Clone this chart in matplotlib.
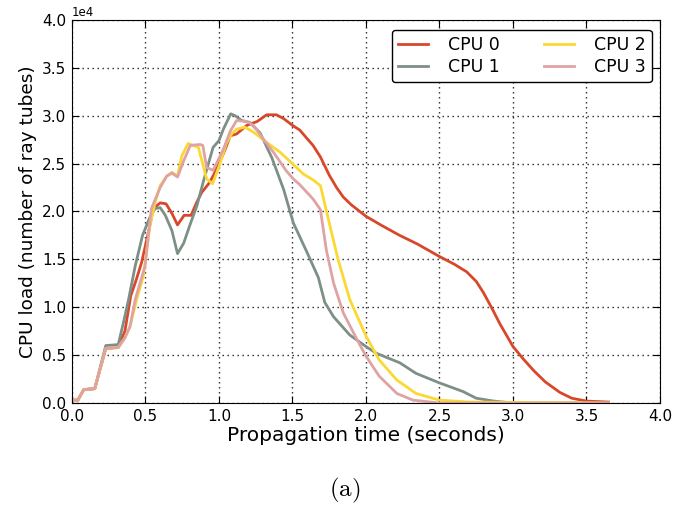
import numpy as np
import matplotlib
matplotlib.use("Agg")
import matplotlib.pyplot as plt

# CPU load traces, values in units of 1e4 ray tubes
t_cpu0 = [0, 0.04, 0.08, 0.155, 0.23, 0.315, 0.36, 0.40, 0.44, 0.474, 0.52, 0.553, 0.6, 0.64,
          0.68, 0.718, 0.763, 0.81, 0.85, 0.883, 0.93, 0.96, 1.0, 1.04, 1.077, 1.12, 1.19, 1.26,
          1.325, 1.39, 1.44, 1.5, 1.55, 1.6, 1.64, 1.69, 1.75, 1.8, 1.846, 1.9, 2.0, 2.1, 2.23,
          2.35, 2.5, 2.6, 2.685, 2.75, 2.8, 2.86, 2.91, 3.0, 3.07, 3.14, 3.22, 3.32, 3.4, 3.5, 3.65]
v_cpu0 = [0.03, 0.03, 0.14, 0.15, 0.57, 0.58, 0.75, 1.12, 1.3, 1.47, 1.78, 2.03, 2.09, 2.08,
          1.98, 1.86, 1.96, 1.96, 2.1, 2.2, 2.29, 2.37, 2.5, 2.64, 2.79, 2.81, 2.90, 2.94,
          3.01, 3.01, 2.97, 2.90, 2.85, 2.76, 2.69, 2.57, 2.38, 2.25, 2.15, 2.07, 1.95, 1.86, 1.75,
          1.66, 1.53, 1.45, 1.37, 1.27, 1.15, 0.98, 0.83, 0.59, 0.46, 0.34, 0.22, 0.11, 0.05, 0.02, 0.01]

t_cpu1 = [0, 0.04, 0.08, 0.155, 0.23, 0.315, 0.35, 0.385, 0.43, 0.48, 0.53, 0.565, 0.6, 0.635,
          0.68, 0.718, 0.76, 0.805, 0.85, 0.895, 0.93, 0.96, 1.0, 1.03, 1.08, 1.11, 1.155, 1.21,
          1.28, 1.36, 1.44, 1.506, 1.6, 1.676, 1.72, 1.78, 1.89, 2.0, 2.07, 2.23, 2.34, 2.5, 2.66,
          2.75, 2.87, 3.0, 3.2, 3.65]
v_cpu1 = [0.03, 0.03, 0.14, 0.15, 0.6, 0.61, 0.84, 1.08, 1.43, 1.75, 1.94, 2.03, 2.04, 1.96,
          1.80, 1.56, 1.67, 1.87, 2.06, 2.32, 2.51, 2.67, 2.74, 2.86, 3.02, 3.0, 2.95, 2.93,
          2.82, 2.56, 2.23, 1.88, 1.57, 1.31, 1.05, 0.90, 0.71, 0.59, 0.52, 0.42, 0.31, 0.21, 0.12,
          0.05, 0.02, 0.0, 0.0, 0.0]

t_cpu2 = [0, 0.04, 0.08, 0.155, 0.23, 0.315, 0.36, 0.395, 0.44, 0.486, 0.53, 0.565, 0.6, 0.645,
          0.68, 0.718, 0.747, 0.79, 0.86, 0.916, 0.957, 1.007, 1.05, 1.086, 1.12, 1.177, 1.234,
          1.325, 1.415, 1.506, 1.575, 1.64, 1.69, 1.755, 1.81, 1.89, 2.0, 2.09, 2.21, 2.34, 2.5,
          2.7, 3.65]
v_cpu2 = [0.03, 0.03, 0.14, 0.15, 0.57, 0.58, 0.68, 0.80, 1.08, 1.33, 1.85, 2.09, 2.27, 2.37,
          2.41, 2.37, 2.58, 2.71, 2.67, 2.34, 2.29, 2.50, 2.71, 2.81, 2.86, 2.88, 2.83,
          2.72, 2.62, 2.49, 2.39, 2.33, 2.27, 1.85, 1.50, 1.08, 0.70, 0.45, 0.24, 0.10, 0.03,
          0.01, 0.0]

t_cpu3 = [0, 0.04, 0.08, 0.155, 0.23, 0.315, 0.36, 0.395, 0.43, 0.497, 0.54, 0.6, 0.645, 0.68,
          0.718, 0.76, 0.805, 0.87, 0.89, 0.916, 0.96, 1.03, 1.077, 1.12, 1.19, 1.234, 1.30, 1.37,
          1.415, 1.46, 1.506, 1.55, 1.64, 1.69, 1.73, 1.78, 1.846, 1.94, 2.0, 2.09, 2.21, 2.32,
          2.5, 3.65]
v_cpu3 = [0.03, 0.03, 0.14, 0.15, 0.57, 0.58, 0.68, 0.80, 1.08, 1.43, 2.03, 2.25, 2.37, 2.40,
          2.36, 2.53, 2.69, 2.70, 2.69, 2.46, 2.43, 2.65, 2.84, 2.95, 2.94, 2.90, 2.76, 2.62,
          2.52, 2.42, 2.34, 2.28, 2.13, 2.02, 1.60, 1.25, 0.94, 0.66, 0.49, 0.28, 0.10, 0.03,
          0.0, 0.0]

labels = ["CPU 0", "CPU 1", "CPU 2", "CPU 3"]
colors = ["#d9472b", "#7e8f86", "#fbd832", "#e0a3a3"]
series = [(t_cpu0, v_cpu0), (t_cpu1, v_cpu1), (t_cpu2, v_cpu2), (t_cpu3, v_cpu3)]

plt.rcParams['mathtext.fontset'] = 'cm'

fig = plt.figure(figsize=(6.9, 5.07), dpi=100)
ax = fig.add_axes([0.1043, 0.2051, 0.8522, 0.7555])

for (t, v), lab, c in zip(series, labels, colors):
    ax.plot(t, np.array(v) * 1e4, color=c, lw=2, label=lab)

ax.set_xlim(0, 4.0)
ax.set_ylim(0, 40000)
ax.set_xticks(np.arange(0, 4.01, 0.5))
ax.set_yticks(np.arange(0, 40001, 5000))
ax.ticklabel_format(style='sci', axis='y', scilimits=(0, 0))
ax.yaxis.get_offset_text().set_fontsize(8.5)
ax.grid(True, color='#222222', linestyle=(0, (1, 2.6)), linewidth=1)
ax.tick_params(direction='in', top=True, right=True, length=5, labelsize=11, pad=4)
ax.set_xlabel("Propagation time (seconds)", fontsize=14.5, labelpad=2)
ax.set_ylabel("CPU load (number of ray tubes)", fontsize=13.3, labelpad=4)

leg = ax.legend(loc='upper right', ncol=2, fontsize=12.5, fancybox=True, framealpha=1,
                handlelength=1.75, handletextpad=1.15, columnspacing=2.5, borderpad=0.35,
                labelspacing=0.25, borderaxespad=0, bbox_to_anchor=(0.986, 0.974))
leg.get_frame().set_edgecolor('k')

fig.text(0.5, 0.0335, r'$\mathrm{(a)}$', ha='center', va='center', fontsize=18)

fig.savefig("out.png", dpi=100, facecolor='white')
